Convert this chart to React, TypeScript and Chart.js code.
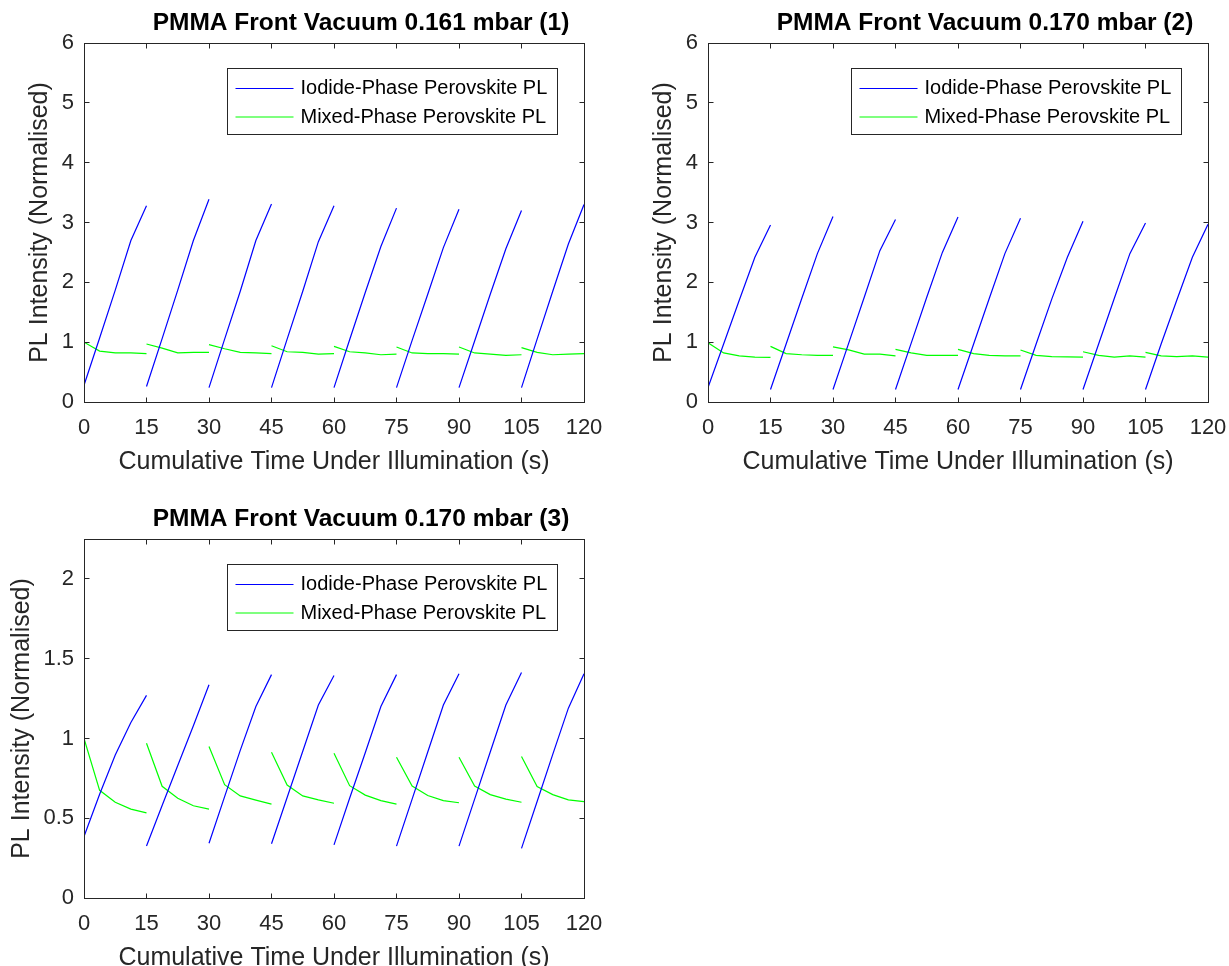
import React, { useEffect, useRef } from "react";
import { Chart, registerables } from "chart.js";

Chart.register(...registerables);

// ---------- data ----------
const segmentStarts = [0, 15, 30, 45, 60, 75, 90, 105];
const segmentOffsets = [0, 3.75, 7.5, 11.25, 15];
const xTicks = [0, 15, 30, 45, 60, 75, 90, 105, 120];
const yTicksTop = [0, 1, 2, 3, 4, 5, 6];
const yTicksBottom = [0, 0.5, 1, 1.5, 2];

const seriesLabels = ["Iodide-Phase Perovskite PL", "Mixed-Phase Perovskite PL"];
const xAxisTitle = "Cumulative Time Under Illumination (s)";
const yAxisTitle = "PL Intensity (Normalised)";
const plotTitles = [
  "PMMA Front Vacuum 0.161 mbar (1)",
  "PMMA Front Vacuum 0.170 mbar (2)",
  "PMMA Front Vacuum 0.170 mbar (3)",
];

const iodide1 = [
  [0.28, 1.07, 1.87, 2.7, 3.28],
  [0.26, 1.06, 1.87, 2.7, 3.39],
  [0.24, 1.05, 1.85, 2.7, 3.31],
  [0.24, 1.05, 1.85, 2.68, 3.28],
  [0.24, 1.04, 1.83, 2.6, 3.24],
  [0.24, 1.03, 1.8, 2.58, 3.22],
  [0.24, 1.02, 1.8, 2.56, 3.2],
  [0.24, 1.05, 1.85, 2.64, 3.3],
];
const mixed1 = [
  [1.0, 0.85, 0.82, 0.82, 0.81],
  [0.97, 0.9, 0.82, 0.83, 0.83],
  [0.96, 0.89, 0.83, 0.82, 0.81],
  [0.94, 0.84, 0.83, 0.8, 0.81],
  [0.93, 0.84, 0.82, 0.79, 0.8],
  [0.92, 0.82, 0.81, 0.81, 0.8],
  [0.92, 0.82, 0.8, 0.78, 0.79],
  [0.91, 0.83, 0.79, 0.8, 0.81],
];
const iodide2 = [
  [0.24, 0.97, 1.7, 2.42, 2.96],
  [0.21, 0.97, 1.73, 2.48, 3.1],
  [0.21, 0.98, 1.75, 2.53, 3.05],
  [0.21, 0.98, 1.75, 2.5, 3.09],
  [0.21, 0.97, 1.73, 2.48, 3.07],
  [0.21, 0.97, 1.72, 2.42, 3.02],
  [0.21, 0.97, 1.73, 2.48, 2.99],
  [0.21, 0.97, 1.7, 2.42, 2.97],
];
const mixed2 = [
  [0.99, 0.82, 0.77, 0.75, 0.745],
  [0.93, 0.81, 0.79, 0.78, 0.78],
  [0.92, 0.87, 0.8, 0.8, 0.77],
  [0.88, 0.82, 0.78, 0.78, 0.78],
  [0.88, 0.81, 0.78, 0.77, 0.77],
  [0.87, 0.78, 0.76, 0.755, 0.75],
  [0.84, 0.78, 0.75, 0.77, 0.75],
  [0.83, 0.77, 0.76, 0.77, 0.75],
];
const iodide3 = [
  [0.385, 0.65, 0.896, 1.1, 1.27],
  [0.326, 0.58, 0.83, 1.08, 1.337],
  [0.343, 0.635, 0.925, 1.2, 1.4],
  [0.34, 0.63, 0.92, 1.21, 1.395],
  [0.333, 0.625, 0.91, 1.2, 1.4],
  [0.325, 0.62, 0.915, 1.21, 1.405],
  [0.325, 0.62, 0.915, 1.21, 1.413],
  [0.311, 0.605, 0.9, 1.19, 1.405],
];
const mixed3 = [
  [1.0, 0.675, 0.6, 0.557, 0.534],
  [0.97, 0.7, 0.625, 0.578, 0.557],
  [0.95, 0.71, 0.64, 0.613, 0.588],
  [0.913, 0.708, 0.64, 0.615, 0.594],
  [0.907, 0.704, 0.645, 0.61, 0.588],
  [0.882, 0.702, 0.642, 0.61, 0.597],
  [0.882, 0.702, 0.648, 0.62, 0.6],
  [0.887, 0.698, 0.648, 0.615, 0.604],
];

// ---------- styling ----------
const FONT = "'Liberation Sans', Arial, Helvetica, sans-serif";
const AXIS_COLOR = "#262626";
const BLUE = "#0000ff";
const GREEN = "#00ff00";
const CANVAS_W = 614;
const CANVAS_H = 490;

function toPoints(segs: number[][]) {
  const pts: { x: number; y: number | null }[] = [];
  segs.forEach((seg, i) => {
    if (i > 0) pts.push({ x: segmentStarts[i], y: null });
    seg.forEach((v, j) => pts.push({ x: segmentStarts[i] + segmentOffsets[j], y: v }));
  });
  return pts;
}

const matlabPlugin = {
  id: "matlabDecor",
  afterDatasetsDraw(chart: any) {
    const { ctx, chartArea: a, scales } = chart;
    const opts = chart.options.plugins.matlabDecor;
    const L = Math.floor(a.left) + 0.5;
    const R = Math.floor(a.right) + 0.5;
    const T = Math.floor(a.top) + 0.5;
    const B = Math.floor(a.bottom) + 0.5;
    ctx.save();
    ctx.strokeStyle = AXIS_COLOR;
    ctx.lineWidth = 1;
    ctx.strokeRect(L, T, R - L, B - T);
    const tl = 5;
    ctx.beginPath();
    scales.x.ticks.forEach((t: any) => {
      const px = Math.floor(scales.x.getPixelForValue(t.value)) + 0.5;
      ctx.moveTo(px, B);
      ctx.lineTo(px, B - tl);
      ctx.moveTo(px, T);
      ctx.lineTo(px, T + tl);
    });
    scales.y.ticks.forEach((t: any) => {
      const py = Math.floor(scales.y.getPixelForValue(t.value)) + 0.5;
      ctx.moveTo(L, py);
      ctx.lineTo(L + tl, py);
      ctx.moveTo(R, py);
      ctx.lineTo(R - tl, py);
    });
    ctx.stroke();

    // legend box
    const bw = 330;
    const bh = 66;
    const bx = Math.floor(a.right - 27 - bw) + 0.5;
    const by = Math.floor(a.top + 25) + 0.5;
    ctx.fillStyle = "#ffffff";
    ctx.fillRect(bx, by, bw, bh);
    ctx.strokeStyle = AXIS_COLOR;
    ctx.strokeRect(bx, by, bw, bh);
    ctx.font = `20px ${FONT}`;
    ctx.textBaseline = "middle";
    ctx.textAlign = "left";
    chart.data.datasets.forEach((ds: any, i: number) => {
      const ry = by + 20 + i * 28.5;
      ctx.strokeStyle = ds.borderColor;
      ctx.lineWidth = 1.2;
      ctx.beginPath();
      ctx.moveTo(bx + 8, ry);
      ctx.lineTo(bx + 66, ry);
      ctx.stroke();
      ctx.fillStyle = "#000000";
      ctx.fillText(ds.label, bx + 73, ry);
    });

    // title
    ctx.fillStyle = "#000000";
    ctx.font = `bold 24.5px ${FONT}`;
    ctx.textAlign = "center";
    ctx.textBaseline = "middle";
    ctx.fillText(opts.title, (a.left + a.right) / 2 + 27, a.top - 19.5);
    ctx.restore();
  },
};

type SubplotProps = {
  left: number;
  top: number;
  title: string;
  iodide: number[][];
  mixed: number[][];
  yMax: number;
  yTicks: number[];
  yTitlePad: number;
};

function Subplot({ left, top, title, iodide, mixed, yMax, yTicks, yTitlePad }: SubplotProps) {
  const ref = useRef<HTMLCanvasElement | null>(null);
  useEffect(() => {
    if (!ref.current) return;
    const chart = new Chart(ref.current, {
      type: "line",
      data: {
        datasets: [
          {
            label: seriesLabels[0],
            data: toPoints(iodide) as any,
            borderColor: BLUE,
            backgroundColor: BLUE,
            borderWidth: 1.2,
            pointRadius: 0,
            tension: 0,
            spanGaps: false,
          },
          {
            label: seriesLabels[1],
            data: toPoints(mixed) as any,
            borderColor: GREEN,
            backgroundColor: GREEN,
            borderWidth: 1.2,
            pointRadius: 0,
            tension: 0,
            spanGaps: false,
          },
        ],
      },
      options: {
        responsive: false,
        animation: false,
        events: [],
        layout: { padding: { left: 0, top: 43, right: 30, bottom: 0 } },
        plugins: {
          legend: { display: false },
          title: { display: false },
          tooltip: { enabled: false },
          matlabDecor: { title },
        } as any,
        scales: {
          x: {
            type: "linear",
            min: 0,
            max: 120,
            afterBuildTicks: (s: any) => {
              s.ticks = xTicks.map((v) => ({ value: v }));
            },
            afterFit: (s: any) => {
              s.height = 88;
              s.paddingLeft = 0;
              s.paddingRight = 0;
            },
            grid: { display: false, drawTicks: false },
            border: { display: false },
            ticks: {
              font: { family: FONT, size: 22 },
              color: AXIS_COLOR,
              padding: 13,
              maxRotation: 0,
              autoSkip: false,
              callback: (v: any) => String(v),
            },
            title: {
              display: true,
              text: xAxisTitle,
              font: { family: FONT, size: 25 },
              color: AXIS_COLOR,
              padding: { top: 0, bottom: 13 },
            },
          },
          y: {
            type: "linear",
            min: 0,
            max: yMax,
            afterBuildTicks: (s: any) => {
              s.ticks = yTicks.map((v) => ({ value: v }));
            },
            afterFit: (s: any) => {
              s.width = 84;
              s.paddingTop = 0;
              s.paddingBottom = 0;
            },
            grid: { display: false, drawTicks: false },
            border: { display: false },
            ticks: {
              font: { family: FONT, size: 22 },
              color: AXIS_COLOR,
              padding: 10,
              autoSkip: false,
              callback: (v: any) => String(v),
            },
            title: {
              display: true,
              text: yAxisTitle,
              font: { family: FONT, size: 25 },
              color: AXIS_COLOR,
              padding: { top: yTitlePad, bottom: 0 },
            },
          },
        },
      },
      plugins: [matlabPlugin as any],
    });
    return () => chart.destroy();
  }, []);
  return (
    <canvas
      ref={ref}
      width={CANVAS_W}
      height={CANVAS_H}
      style={{ position: "absolute", left, top, width: CANVAS_W, height: CANVAS_H }}
    />
  );
}

export default function App() {
  return (
    <div
      style={{
        position: "absolute",
        left: 0,
        top: 0,
        width: 1229,
        height: 966,
        background: "#ffffff",
        overflow: "hidden",
      }}
    >
      <Subplot left={0} top={0} title={plotTitles[0]} iodide={iodide1} mixed={mixed1} yMax={6} yTicks={yTicksTop} yTitlePad={25.5} />
      <Subplot left={624} top={0} title={plotTitles[1]} iodide={iodide2} mixed={mixed2} yMax={6} yTicks={yTicksTop} yTitlePad={25.5} />
      <Subplot left={0} top={496} title={plotTitles[2]} iodide={iodide3} mixed={mixed3} yMax={2.25} yTicks={yTicksBottom} yTitlePad={7} />
    </div>
  );
}
